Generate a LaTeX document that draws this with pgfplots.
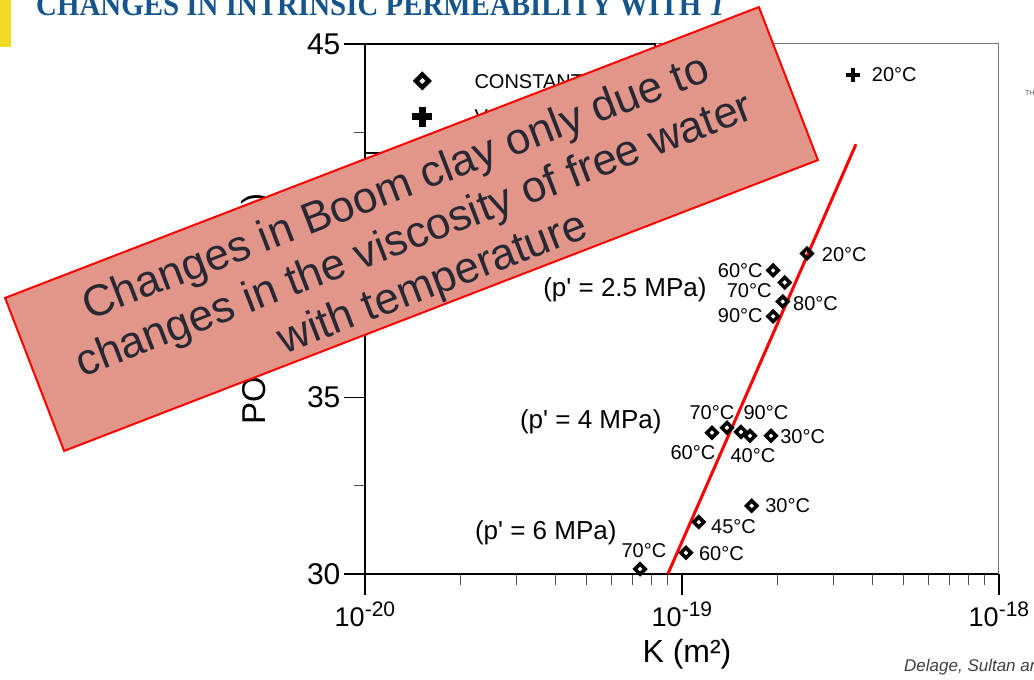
\documentclass[border=0pt]{standalone}
\usepackage{fontspec}
\usepackage{graphicx}
\usepackage{pgfplots}
\pgfplotsset{compat=1.18}
\setmainfont{Liberation Sans}
\newfontfamily\titlefont{Liberation Serif}
\definecolor{titleblue}{RGB}{22,84,140}
\definecolor{overlayfill}{RGB}{226,150,138}
\definecolor{overlaytext}{RGB}{40,40,52}
\definecolor{barYellow}{RGB}{242,218,38}
\newcommand{\lbl}{\fontsize{20}{20}\selectfont}
\newcommand{\plbl}{\fontsize{26}{26}\selectfont}
\newcommand{\expo}[1]{10\raisebox{10pt}{\fontsize{21}{21}\selectfont #1}}
\newcommand{\pp}{p\textquotesingle}
\pgfplotsset{mylegimg/.style={legend image code/.code={\path (-29pt,1pt) (52pt,1pt); \draw[##1] plot coordinates {(0pt,1pt)};}}}

\begin{document}
\begin{tikzpicture}
\useasboundingbox (0,0) rectangle (1034pt,680pt);
\fill[barYellow] (0,633pt) rectangle (11pt,680pt);
\node[anchor=base west, inner sep=0pt, text=titleblue] at (36pt,664pt)
  {\resizebox{691pt}{\height}{\titlefont\bfseries\fontsize{32}{32}\selectfont CHANGES IN INTRINSIC PERMEABILITY WITH \textit{T}}};

\begin{axis}[
  at={(365pt,106pt)}, anchor=south west,
  scale only axis, width=634pt, height=530pt,
  xmode=log, xmin=1e-20, xmax=1e-18, ymin=30, ymax=45,
  clip=false,
  axis x line*=bottom, axis y line*=left,
  axis line style={line width=1.5pt, black},
  xtick={1e-20,1e-19,1e-18},
  xticklabels={\expo{-20},\expo{-19},\expo{-18}},
  minor xtick={2e-20,3e-20,4e-20,5e-20,6e-20,7e-20,8e-20,9e-20,2e-19,3e-19,4e-19,5e-19,6e-19,7e-19,8e-19,9e-19},
  ytick={30,35,40,45}, minor ytick={32.5,37.5,42.5},
  tick align=outside,
  major tick length=21pt, minor tick length=11pt,
  major tick style={line width=1.2pt, black},
  minor tick style={line width=1.2pt, black!70},
  /pgf/number format/assume math mode=true,
  yticklabel style={font=\fontsize{30}{30}\selectfont},
  xticklabel style={font=\fontsize{27}{27}\selectfont, yshift=-3pt},
  xlabel={K (m²)},
  ylabel={POROSITY (\%)},
  every axis x label/.style={at={(axis description cs:0.508,-0.1679)}, anchor=base, font=\fontsize{32}{32}\selectfont},
  every axis y label/.style={at={(axis description cs:-0.1703,0.5)}, rotate=90, anchor=center, font=\fontsize{33}{33}\selectfont},
  legend style={at={(rel axis cs:0,1)}, anchor=north west, draw=none, fill=none,
    inner xsep=28pt, inner ysep=30pt, row sep=17pt, font=\lbl, nodes={inner sep=0pt}},
  legend cell align=left,
]
\addlegendimage{only marks, mark=square, mark size=4.5pt, mark options={line width=4.5pt, rotate=45, solid}, mylegimg}
\addlegendentry{CONSTANT T}
\addlegendimage{only marks, mark=+, mark size=10pt, mark options={line width=6.5pt, solid}, mylegimg}
\addlegendentry{VARIABLE T}

\draw[black!55, line width=1pt] (rel axis cs:0,1) -- (rel axis cs:1,1) -- (rel axis cs:1,0);
\draw[black, line width=1.5pt] (rel axis cs:0,1) rectangle (rel axis cs:0.4574,0.7943);

% red trend line
\addplot[red, line width=3pt, forget plot] coordinates {(9.03e-20,30) (3.54e-19,42.16)};

% p' = 2.5 MPa
\addplot[only marks, mark=square, mark size=3.6pt, mark options={line width=3.6pt, rotate=45, solid}, forget plot]
  coordinates {(2.48e-19,39.07) (1.94e-19,38.59) (2.11e-19,38.25) (2.08e-19,37.71) (1.94e-19,37.29)};
% p' = 4 MPa
\addplot[only marks, mark=square, mark size=3.6pt, mark options={line width=3.6pt, rotate=45, solid}, forget plot]
  coordinates {(1.244e-19,34.00) (1.387e-19,34.14) (1.535e-19,34.02) (1.64e-19,33.91) (1.91e-19,33.91)};
% p' = 6 MPa
\addplot[only marks, mark=square, mark size=3.6pt, mark options={line width=3.6pt, rotate=45, solid}, forget plot]
  coordinates {(1.66e-19,31.93) (1.13e-19,31.47) (1.03e-19,30.60) (7.38e-20,30.14)};
% variable temperature
\addplot[only marks, mark=+, mark size=7pt, mark options={line width=4.5pt, solid}, forget plot]
  coordinates {(3.46e-19,44.12)};

\node[anchor=west, inner sep=0pt, font=\lbl] at (axis cs:3.97e-19,44.12) {20°C};

\node[anchor=west, inner sep=0pt, font=\lbl] at (axis cs:2.76e-19,39.04) {20°C};
\node[anchor=east, inner sep=0pt, font=\lbl] at (axis cs:1.80e-19,38.59) {60°C};
\node[anchor=east, inner sep=0pt, font=\lbl] at (axis cs:1.92e-19,38.02) {70°C};
\node[anchor=west, inner sep=0pt, font=\lbl] at (axis cs:2.24e-19,37.66) {80°C};
\node[anchor=east, inner sep=0pt, font=\lbl] at (axis cs:1.80e-19,37.31) {90°C};
\node[inner sep=0pt, font=\plbl] at (axis cs:6.61e-20,38.05) {(\pp{} = 2.5 MPa)};

\node[inner sep=0pt, font=\lbl] at (axis cs:1.243e-19,34.56) {70°C};
\node[inner sep=0pt, font=\lbl] at (axis cs:1.84e-19,34.56) {90°C};
\node[inner sep=0pt, font=\lbl] at (axis cs:1.083e-19,33.43) {60°C};
\node[inner sep=0pt, font=\lbl] at (axis cs:1.675e-19,33.35) {40°C};
\node[anchor=west, inner sep=0pt, font=\lbl] at (axis cs:2.04e-19,33.88) {30°C};
\node[inner sep=0pt, font=\plbl] at (axis cs:5.16e-20,34.31) {(\pp{} = 4 MPa)};

\node[anchor=west, inner sep=0pt, font=\lbl] at (axis cs:1.83e-19,31.93) {30°C};
\node[anchor=west, inner sep=0pt, font=\lbl] at (axis cs:1.235e-19,31.33) {45°C};
\node[anchor=west, inner sep=0pt, font=\lbl] at (axis cs:1.131e-19,30.57) {60°C};
\node[inner sep=0pt, font=\lbl] at (axis cs:7.59e-20,30.65) {70°C};
\node[inner sep=0pt, font=\plbl] at (axis cs:3.72e-20,31.16) {(\pp{} = 6 MPa)};
\end{axis}

% overlay note
\node[rotate=21.1, draw=red, line width=2pt, fill=overlayfill, minimum width=808pt, minimum height=164pt, inner sep=0pt] at (411.5pt,451pt) {};
\node[rotate=21.1, align=center, text=overlaytext, font=\fontsize{44}{51}\selectfont] at (415pt,443pt)
  {Changes in Boom clay only due to\\changes in the viscosity of free water\\with temperature};

\node[anchor=base west, inner sep=0pt, text=black!75, font=\fontsize{17}{17}\selectfont\itshape] at (904pt,8pt) {Delage, Sultan and Cui (2000)};
\node[anchor=base west, inner sep=0pt, text=black!70, font=\fontsize{7}{7}\selectfont] at (1025pt,584pt) {THE};
\end{tikzpicture}
\end{document}
